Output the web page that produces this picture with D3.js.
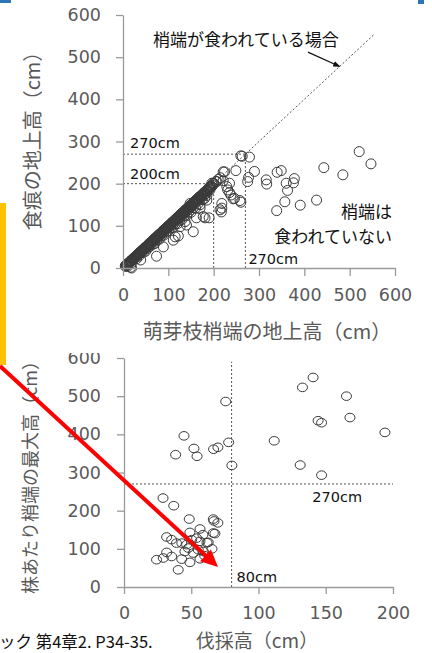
<!DOCTYPE html>
<html>
<head>
<meta charset="utf-8">
<script src="https://cdn.jsdelivr.net/npm/d3@7"></script>
<style>
  html, body { margin: 0; padding: 0; background: #fff; }
  svg { display: block; }
</style>
</head>
<body>
<svg id="chart" width="432" height="653"></svg>
<script>
// ---- data ----------------------------------------------------------------
// Upper panel: height of the sprout tip (x) vs height of the browsing mark (y), cm
const tipHeight = [5,8,10,12,15,18,20,22,25,28,30,33,35,38,40,42,45,48,50,52,55,58,60,62,65,68,70,72,75,78,80,82,85,88,90,92,95,98,100,102,105,108,110,112,115,118,120,122,125,128,130,132,135,138,140,142,145,148,150,152,155,158,160,162,165,168,170,172,175,178,180,182,185,188,190,192,195,198,200,205,210,215,
  6,7,9,11,13,14,16,17,19,21,23,24,26,27,29,31,32,34,36,37,39,41,43,44,46,47,49,51,53,54,56,57,59,61,63,64,66,67,69,71,73,74,76,77,79,81,83,84,86,87,89,91,93,94,96,97,99,101,103,104,106,107,109,111,113,114,116,117,119,121,123,124,126,127,129,131,133,134,136,137,139,141,143,144,146,147,149,151,153,154,156,157,159,161,163,164,166,167,169,171,173,174,176,177,179,181,183,184,186,187,189,191,193,194,
  10,20,35,45,55,65,75,85,95,105,115,125,135,145,155,165,175,185,
  30,50,60,70,80,90,100,110,120,130,140,150,160,170,180,
  19,17,39,74,89,111,115,122,126,137,140,148,155,162,170,170,177,181,185,190,192,196,199,207,214,218,217,218,221,221,224,229,231,235,235,238,243,246,249,258,260,260,263,277,275,279,290,316,317,339,340,349,357,360,363,376,378,391,427,443,485,521,547];
const markHeight = [5,6,10,9,14,16,20,19,24,26,30,31,34,36,40,38,44,46,50,48,54,55,60,58,64,65,70,68,74,75,80,78,84,85,90,87,94,95,100,97,104,105,110,106,114,115,120,117,124,124,130,127,134,134,140,136,144,144,150,146,154,154,160,156,164,163,170,166,174,172,180,176,184,182,190,186,194,196,200,205,210,214,
  4,7,8,11,12,13,15,17,18,20,22,24,25,26,28,30,32,33,35,37,38,40,42,43,45,47,48,50,52,53,55,57,58,60,62,63,65,67,68,70,72,73,75,77,78,80,82,83,85,87,88,90,92,93,95,97,98,100,102,103,105,107,108,110,112,113,115,117,118,120,122,123,125,127,128,130,132,133,135,137,138,140,142,143,145,147,148,150,152,153,155,157,158,160,162,163,165,167,168,170,172,173,175,177,178,180,182,183,185,187,188,190,192,193,
  4,13,28,37,47,56,66,76,85,95,104,113,123,133,143,152,162,172,
  22,40,52,58,68,78,88,96,105,115,125,132,142,150,165,
  0,2,19,28,50,66,74,76,98,110,102,153,86,119,142,169,122,119,161,119,193,201,201,205,138,153,133,142,207,228,228,193,185,179,201,173,164,165,231,160,156,266,265,215,205,263,229,209,199,136,227,231,157,201,184,202,212,149,161,238,221,276,247];

// Lower panel: cutting height (x) vs maximum sprout tip height per stump (y), cm
const cutHeight = [29,37,48.5,56.5,66.4,66.4,49,31.7,35.4,39,43,46.6,50.3,54,56.5,62.6,31.7,24.2,29.2,35.4,42.9,49,40.3,51.5,55.2,59,47.8,45.3,66.9,69.8,67.6,58.7,61.7,65.4,60,56.5,
  44.6,38.4,52,54.3,66.6,69.8,77.8,75.6,80.2,111.7,132.7,140.6,165.4,144.3,146.9,168,194,131,146.9];
const maxTip = [233,213,178,152,178,141.5,143,131,124,115,115,111,124,128,119.5,117,90.6,71.5,76,80,73,64.5,45,89,97.7,93,102,93,173,168,140,137,116,100,82,74,
  396,346.6,363,342.5,361,366,379,486,318.6,383,523,549,500,435.7,430.5,444,405,319.6,293];

// Axis ticks
const topTicks = [0,100,200,300,400,500,600];
const bottomXTicks = [0,50,100,150,200];
const bottomYTicks = [0,100,200,300,400,500,600];

// Reference lines (cm)
const topRefLines = [270, 200];
const diagonalEnd = 555;
const bottomRefY = 270;
const bottomRefX = 80;

// Text
const topXTitle = "萌芽枝梢端の地上高（cm）";
const topYTitle = "食痕の地上高（cm）";
const bottomXTitle = "伐採高（cm）";
const bottomYTitle = "株あたり梢端の最大高（cm）";
const eatenLabel = "梢端が食われている場合";
const notEatenLabel = ["梢端は", "食われていない"];
const sourceText = "ック 第4章2. P34-35.";

// ---- drawing -------------------------------------------------------------
const svg = d3.select("#chart");
const NUM_FONT = "'DejaVu Sans', Verdana, sans-serif";
const JP_FONT = "'Noto Sans CJK JP', 'Noto Sans', sans-serif";
const AXIS_COLOR = "#9a9a9a";
const TICK_TEXT = "#5a5a5a";
const DOT_COLOR = "#3a3a3a";
const DASH_COLOR = "#555";

svg.append("rect").attr("width", 432).attr("height", 653).attr("fill", "#fff");

function styleAxis(g) {
  g.select(".domain").attr("stroke", AXIS_COLOR).attr("stroke-width", 1.3);
  g.selectAll(".tick line").attr("stroke", AXIS_COLOR).attr("stroke-width", 1.3);
  g.selectAll(".tick text")
    .attr("fill", TICK_TEXT)
    .attr("font-family", NUM_FONT)
    .attr("font-size", 17.5);
}

// ===== upper panel =====
const x1 = d3.scaleLinear().domain([0, 600]).range([123, 395]);
const y1 = d3.scaleLinear().domain([0, 600]).range([268, 15]);
const upperG = svg.append("g");

// dashed reference lines
const dash = g => g.attr("stroke", DASH_COLOR).attr("stroke-width", 1).attr("stroke-dasharray", "2,2").attr("fill", "none");
upperG.append("line").call(dash)
  .attr("x1", x1(0)).attr("y1", y1(0)).attr("x2", x1(diagonalEnd)).attr("y2", y1(diagonalEnd));
topRefLines.forEach(v => {
  upperG.append("line").call(dash)
    .attr("x1", x1(0)).attr("x2", x1(v)).attr("y1", y1(v)).attr("y2", y1(v));
  upperG.append("line").call(dash)
    .attr("x1", x1(v)).attr("x2", x1(v)).attr("y1", y1(0)).attr("y2", y1(v));
});

// points
upperG.append("g").selectAll("circle")
  .data(tipHeight.map((d, i) => [d, markHeight[i]]))
  .join("circle")
  .attr("cx", d => x1(d[0]))
  .attr("cy", d => y1(d[1]))
  .attr("r", 5)
  .attr("fill", "none")
  .attr("stroke", DOT_COLOR)
  .attr("stroke-width", 1);

// axes
upperG.append("g").attr("transform", `translate(0,${y1(0)})`)
  .call(d3.axisBottom(x1).tickValues(topTicks).tickSize(8).tickSizeOuter(0).tickPadding(13))
  .call(styleAxis);
upperG.append("g").attr("transform", `translate(${x1(0)},0)`)
  .call(d3.axisLeft(y1).tickValues(topTicks).tickSize(7).tickSizeOuter(0).tickPadding(15))
  .call(styleAxis);

// reference labels
const refLabel = (g, text, x, y) => g.append("text").text(text)
  .attr("x", x).attr("y", y).attr("font-family", NUM_FONT).attr("font-size", 14.5).attr("fill", "#111");
refLabel(upperG, "270cm", x1(0) + 7, y1(270) - 6);
refLabel(upperG, "200cm", x1(0) + 7, y1(200) - 5);
refLabel(upperG, "270cm", x1(270) + 3, y1(0) - 4);

// annotation: browsed case
upperG.append("text").text(eatenLabel)
  .attr("x", 153).attr("y", 46)
  .attr("font-family", JP_FONT).attr("font-size", 17).attr("fill", "#111");
const arrowFrom = [408, 512], arrowTo = [478, 478];
svg.append("defs").append("marker")
  .attr("id", "headSmall").attr("viewBox", "0 0 10 10").attr("refX", 9).attr("refY", 5)
  .attr("markerWidth", 6).attr("markerHeight", 6).attr("orient", "auto")
  .append("path").attr("d", "M0,1 L10,5 L0,9 Z").attr("fill", "#111");
upperG.append("line")
  .attr("x1", x1(arrowFrom[0])).attr("y1", y1(arrowFrom[1]))
  .attr("x2", x1(arrowTo[0])).attr("y2", y1(arrowTo[1]))
  .attr("stroke", "#111").attr("stroke-width", 1.2)
  .attr("marker-end", "url(#headSmall)");

// annotation: not browsed
upperG.append("text").attr("font-family", JP_FONT).attr("font-size", 17).attr("fill", "#111")
  .attr("text-anchor", "end")
  .selectAll("tspan").data(notEatenLabel).join("tspan")
  .attr("x", 392).attr("y", (d, i) => 218 + i * 25)
  .text(d => d);

// axis titles
upperG.append("text").text(topXTitle)
  .attr("x", 267).attr("y", 339).attr("text-anchor", "middle")
  .attr("font-family", JP_FONT).attr("font-size", 20).attr("fill", "#595959");
upperG.append("text").text(topYTitle)
  .attr("transform", "translate(40,136) rotate(-90)").attr("text-anchor", "middle")
  .attr("font-family", JP_FONT).attr("font-size", 20).attr("fill", "#595959");

// ===== lower panel =====
const x2 = d3.scaleLinear().domain([0, 200]).range([124, 393]);
const y2 = d3.scaleLinear().domain([0, 600]).range([587, 358]);
svg.append("clipPath").attr("id", "lowerClip")
  .append("rect").attr("x", 0).attr("y", 353).attr("width", 432).attr("height", 300);
const lowerG = svg.append("g").attr("clip-path", "url(#lowerClip)");

lowerG.append("line").call(dash)
  .attr("x1", x2(0)).attr("x2", x2(200)).attr("y1", y2(bottomRefY)).attr("y2", y2(bottomRefY));
lowerG.append("line").call(dash)
  .attr("x1", x2(bottomRefX)).attr("x2", x2(bottomRefX)).attr("y1", y2(0)).attr("y2", y2(590));

lowerG.append("g").selectAll("ellipse")
  .data(cutHeight.map((d, i) => [d, maxTip[i]]))
  .join("ellipse")
  .attr("cx", d => x2(d[0]))
  .attr("cy", d => y2(d[1]))
  .attr("rx", 5).attr("ry", 4.3)
  .attr("fill", "none")
  .attr("stroke", DOT_COLOR)
  .attr("stroke-width", 1);

lowerG.append("g").attr("transform", `translate(0,${y2(0)})`)
  .call(d3.axisBottom(x2).tickValues(bottomXTicks).tickSize(7).tickSizeOuter(0).tickPadding(13))
  .call(styleAxis);
lowerG.append("g").attr("transform", `translate(${x2(0)},0)`)
  .call(d3.axisLeft(y2).tickValues(bottomYTicks).tickSize(7).tickSizeOuter(0).tickPadding(16))
  .call(styleAxis);

refLabel(lowerG, "270cm", x2(140), y2(bottomRefY) + 18);
refLabel(lowerG, "80cm", x2(bottomRefX) + 5, y2(0) - 5);

lowerG.append("text").text(bottomXTitle)
  .attr("x", 257).attr("y", 648).attr("text-anchor", "middle")
  .attr("font-family", JP_FONT).attr("font-size", 19).attr("fill", "#595959");
lowerG.append("text").text(bottomYTitle)
  .attr("transform", "translate(37,473) rotate(-90)").attr("text-anchor", "middle")
  .attr("font-family", JP_FONT).attr("font-size", 18).attr("fill", "#595959");

// ===== slide decorations =====
svg.append("rect").attr("x", 0).attr("y", 0).attr("width", 11).attr("height", 3).attr("fill", "#2e75b6");
svg.append("rect").attr("x", 418).attr("y", 0).attr("width", 6).attr("height", 4).attr("fill", "#2e75b6");
svg.append("rect").attr("x", 0).attr("y", 203).attr("width", 6).attr("height", 162).attr("fill", "#ffc000");

// red pointer arrow
const tail = [0, 366], tip = [218, 567];
const dx = tip[0] - tail[0], dy = tip[1] - tail[1], len = Math.hypot(dx, dy);
const ux = dx / len, uy = dy / len, hl = 17, hw = 8;
const base = [tip[0] - ux * hl, tip[1] - uy * hl];
svg.append("line")
  .attr("x1", tail[0]).attr("y1", tail[1]).attr("x2", base[0] + ux * 2).attr("y2", base[1] + uy * 2)
  .attr("stroke", "#ff0000").attr("stroke-width", 4);
svg.append("path")
  .attr("d", `M${tip[0]},${tip[1]} L${base[0] - uy * hw},${base[1] + ux * hw} L${base[0] + uy * hw},${base[1] - ux * hw} Z`)
  .attr("fill", "#ff0000");

// source line
svg.append("text").text(sourceText)
  .attr("x", -1).attr("y", 648)
  .attr("font-family", JP_FONT).attr("font-size", 16.5).attr("fill", "#111");
</script>
</body>
</html>
